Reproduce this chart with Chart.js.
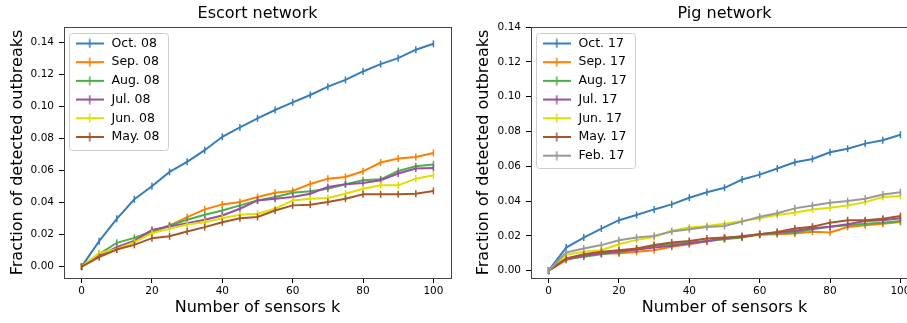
<!DOCTYPE html>
<html>
<head>
<meta charset="utf-8">
<script src="https://cdn.jsdelivr.net/npm/chart.js@4.4.0/dist/chart.umd.min.js"></script>
<style>
  html, body { margin: 0; padding: 0; background: #fff; overflow: hidden; width: 907px; height: 323px; }
  canvas { position: absolute; top: 0; }
  #escortChart { left: 0; }
  #pigChart { left: 466px; }
</style>
</head>
<body>
<canvas id="escortChart" width="460" height="323"></canvas>
<canvas id="pigChart" width="460" height="323"></canvas>
<script>
// 感測器數量 k
const ks = [0, 5, 10, 15, 20, 25, 30, 35, 40, 45, 50, 55, 60, 65, 70, 75, 80, 85, 90, 95, 100];
const xTicks = [0, 20, 40, 60, 80, 100];
const yTicks = [0, 0.02, 0.04, 0.06, 0.08, 0.10, 0.12, 0.14];

// Escort network
const escortLabels = ['Oct. 08', 'Sep. 08', 'Aug. 08', 'Jul. 08', 'Jun. 08', 'May. 08'];
const oct08 = [0, 0.0159, 0.0299, 0.0421, 0.0502, 0.0592, 0.0655, 0.0728, 0.0812, 0.0870, 0.0927, 0.0979, 0.1027, 0.1073, 0.1125, 0.1167, 0.1220, 0.1266, 0.1303, 0.1356, 0.1393];
const sep08 = [0, 0.0079, 0.0111, 0.0153, 0.0215, 0.0257, 0.0310, 0.0358, 0.0389, 0.0404, 0.0435, 0.0462, 0.0473, 0.0517, 0.0550, 0.0561, 0.0596, 0.0651, 0.0676, 0.0686, 0.0711];
const aug08 = [0, 0.0079, 0.0149, 0.0180, 0.0222, 0.0257, 0.0293, 0.0324, 0.0351, 0.0383, 0.0414, 0.0435, 0.0462, 0.0471, 0.0487, 0.0515, 0.0540, 0.0546, 0.0598, 0.0628, 0.0638];
const jul08 = [0, 0.0069, 0.0121, 0.0163, 0.0230, 0.0251, 0.0272, 0.0293, 0.0320, 0.0362, 0.0414, 0.0425, 0.0435, 0.0456, 0.0498, 0.0515, 0.0523, 0.0540, 0.0582, 0.0613, 0.0617];
const jun08 = [0, 0.0084, 0.0111, 0.0153, 0.0209, 0.0236, 0.0264, 0.0278, 0.0303, 0.0324, 0.0331, 0.0362, 0.0414, 0.0425, 0.0429, 0.0456, 0.0487, 0.0508, 0.0508, 0.0550, 0.0571];
const may08 = [0, 0.0059, 0.0107, 0.0136, 0.0178, 0.0190, 0.0220, 0.0247, 0.0278, 0.0303, 0.0310, 0.0351, 0.0383, 0.0387, 0.0404, 0.0425, 0.0452, 0.0452, 0.0452, 0.0456, 0.0473];

// Pig network
const pigLabels = ['Oct. 17', 'Sep. 17', 'Aug. 17', 'Jul. 17', 'Jun. 17', 'May. 17', 'Feb. 17'];
const oct17 = [0, 0.0133, 0.0190, 0.0242, 0.0290, 0.0320, 0.0352, 0.0381, 0.0419, 0.0451, 0.0476, 0.0524, 0.0552, 0.0587, 0.0623, 0.0642, 0.0680, 0.0701, 0.0730, 0.0749, 0.0781];
const sep17 = [0, 0.0061, 0.0086, 0.0101, 0.0099, 0.0109, 0.0118, 0.0137, 0.0152, 0.0168, 0.0185, 0.0194, 0.0206, 0.0210, 0.0213, 0.0223, 0.0219, 0.0251, 0.0261, 0.0270, 0.0280];
const aug17 = [0, 0.0067, 0.0080, 0.0095, 0.0105, 0.0124, 0.0143, 0.0152, 0.0162, 0.0171, 0.0181, 0.0190, 0.0210, 0.0213, 0.0219, 0.0238, 0.0253, 0.0261, 0.0270, 0.0276, 0.0286];
const jul17 = [0, 0.0067, 0.0086, 0.0099, 0.0110, 0.0120, 0.0133, 0.0143, 0.0156, 0.0171, 0.0187, 0.0200, 0.0210, 0.0219, 0.0229, 0.0244, 0.0253, 0.0267, 0.0286, 0.0290, 0.0301];
const jun17 = [0, 0.0091, 0.0109, 0.0118, 0.0152, 0.0177, 0.0194, 0.0229, 0.0248, 0.0257, 0.0270, 0.0286, 0.0301, 0.0320, 0.0333, 0.0352, 0.0362, 0.0375, 0.0394, 0.0423, 0.0429];
const may17 = [0, 0.0070, 0.0095, 0.0109, 0.0118, 0.0128, 0.0147, 0.0162, 0.0171, 0.0185, 0.0190, 0.0194, 0.0210, 0.0223, 0.0242, 0.0253, 0.0276, 0.0290, 0.0290, 0.0299, 0.0314];
const feb17 = [0, 0.0105, 0.0128, 0.0147, 0.0175, 0.0190, 0.0200, 0.0225, 0.0238, 0.0251, 0.0257, 0.0282, 0.0310, 0.0330, 0.0358, 0.0375, 0.0390, 0.0400, 0.0413, 0.0438, 0.0451];

const colors = ['#377eb8', '#ff7f00', '#4daf4a', '#984ea3', '#dede00', '#a65628', '#999999'];
const FONT = 'DejaVu Sans';
const LEGEND_SIZE = 12.5;
const LEGEND_PAD = 6.2;
const SYMBOL_W = 31;

// 圖例符號：線段加上誤差棒
function legendSymbol(color) {
  const c = document.createElement('canvas');
  c.width = 28; c.height = 10;
  const g = c.getContext('2d');
  g.strokeStyle = color;
  g.lineWidth = 2;
  g.beginPath(); g.moveTo(0, 5); g.lineTo(28, 5); g.stroke();
  g.lineWidth = 1.5;
  g.beginPath(); g.moveTo(14, 0.5); g.lineTo(14, 9.5); g.stroke();
  return c;
}

// 圖框與圖例外框
const framePlugin = {
  id: 'framePlugin',
  afterLayout(chart) {
    // chartArea 位置的直式圖例 top 會被設成 0，這裡自己擺
    const lg = chart.legend;
    const a = chart.chartArea;
    lg.left = a.left + 4;
    lg.top = a.top + 4;
    lg.bottom = a.bottom;
  },
  beforeDraw(chart) {
    const lg = chart.legend;
    const ctx = chart.ctx;
    const n = chart.data.datasets.length;
    ctx.save();
    ctx.font = LEGEND_SIZE + 'px "' + FONT + '"';
    let tw = 0;
    chart.data.datasets.forEach(ds => { tw = Math.max(tw, ctx.measureText(ds.label).width); });
    const x0 = lg.left + LEGEND_PAD;
    const y0 = lg.top + LEGEND_PAD;
    const l = Math.round(x0 - 5) + 0.5;
    const t = Math.round(y0 - 4) + 0.5;
    const r = Math.round(x0 + SYMBOL_W + LEGEND_SIZE / 2 + tw + 8) + 0.5;
    const b = Math.round(y0 + n * LEGEND_SIZE + (n - 1) * LEGEND_PAD + 6.5) + 0.5;
    ctx.fillStyle = 'rgba(255,255,255,0.8)';
    ctx.strokeStyle = '#cccccc';
    ctx.lineWidth = 1;
    ctx.beginPath();
    ctx.roundRect(l, t, r - l, b - t, 3);
    ctx.fill();
    ctx.stroke();
    ctx.restore();
  },
  afterDraw(chart) {
    const a = chart.chartArea;
    const ctx = chart.ctx;
    ctx.save();
    ctx.strokeStyle = '#444';
    ctx.lineWidth = 1;
    ctx.strokeRect(Math.round(a.left) + 0.5, Math.round(a.top) + 0.5, Math.round(a.right - a.left), Math.round(a.bottom - a.top));
    ctx.restore();
  }
};

function makeChart(id, title, labels, series, yMin, yMax, yWidth, padRight) {
  const datasets = series.map((vals, i) => ({
    label: labels[i],
    data: ks.map((k, j) => ({x: k, y: vals[j]})),
    borderColor: colors[i],
    backgroundColor: colors[i],
    borderWidth: 2,
    tension: 0,
    pointStyle: 'line',
    pointRotation: 90,
    pointRadius: 3.5,
    pointBorderWidth: 1.5,
    pointBorderColor: colors[i],
    order: -i
  }));

  const config = {
    type: 'line',
    data: { datasets: datasets },
    options: {
      responsive: false,
      animation: false,
      events: [],
      layout: { padding: { left: 0, right: padRight, top: 0, bottom: 0 } },
      plugins: {
        title: {
          display: true,
          text: title,
          fullSize: false,
          color: '#000',
          font: { family: FONT, size: 16, weight: 'normal' },
          padding: { top: 4.1, bottom: 3.7 }
        },
        legend: {
          position: 'chartArea',
          align: 'start',
          labels: {
            usePointStyle: true,
            pointStyleWidth: SYMBOL_W,
            padding: LEGEND_PAD,
            color: '#000',
            font: { family: FONT, size: LEGEND_SIZE },
            generateLabels: function(chart) {
              return chart.data.datasets.map((ds, i) => ({
                text: ds.label,
                fillStyle: ds.borderColor,
                strokeStyle: ds.borderColor,
                lineWidth: 0,
                pointStyle: legendSymbol(ds.borderColor),
                rotation: 0,
                hidden: false,
                datasetIndex: i,
                fontColor: '#000'
              }));
            }
          }
        },
        tooltip: { enabled: false }
      },
      scales: {
        x: {
          type: 'linear',
          min: -5,
          max: 105,
          afterBuildTicks: scale => { scale.ticks = xTicks.map(v => ({value: v})); },
          afterFit: scale => { scale.height = 45; },
          border: { display: false },
          grid: { drawOnChartArea: false, tickLength: 5, tickColor: '#000', tickWidth: 1 },
          ticks: { color: '#000', padding: 2, maxRotation: 0, font: { family: FONT, size: 10.5 },
                   callback: v => String(v) },
          title: { display: true, text: 'Number of sensors k', color: '#000',
                   font: { family: FONT, size: 16 }, padding: { top: 0, bottom: 6 } }
        },
        y: {
          min: yMin,
          max: yMax,
          afterBuildTicks: scale => { scale.ticks = yTicks.map(v => ({value: v})); },
          afterFit: scale => { scale.width = yWidth; },
          border: { display: false },
          grid: { drawOnChartArea: false, tickLength: 5, tickColor: '#000', tickWidth: 1 },
          ticks: { color: '#000', padding: 5, font: { family: FONT, size: 10.5 },
                   callback: v => Number(v).toFixed(2) },
          title: { display: true, text: 'Fraction of detected outbreaks', color: '#000',
                   font: { family: FONT, size: 16 }, padding: { top: 8, bottom: 0 } }
        }
      }
    },
    plugins: [framePlugin]
  };
  return new Chart(document.getElementById(id).getContext('2d'), config);
}

document.addEventListener('DOMContentLoaded', function() {
  makeChart('escortChart', 'Escort network', escortLabels,
    [oct08, sep08, aug08, jul08, jun08, may08], -0.0071, 0.1498, 64, 9);
  makeChart('pigChart', 'Pig network', pigLabels,
    [oct17, sep17, aug17, jul17, jun17, may17, feb17], -0.0042, 0.14, 65, 8);
});
</script>
</body>
</html>
